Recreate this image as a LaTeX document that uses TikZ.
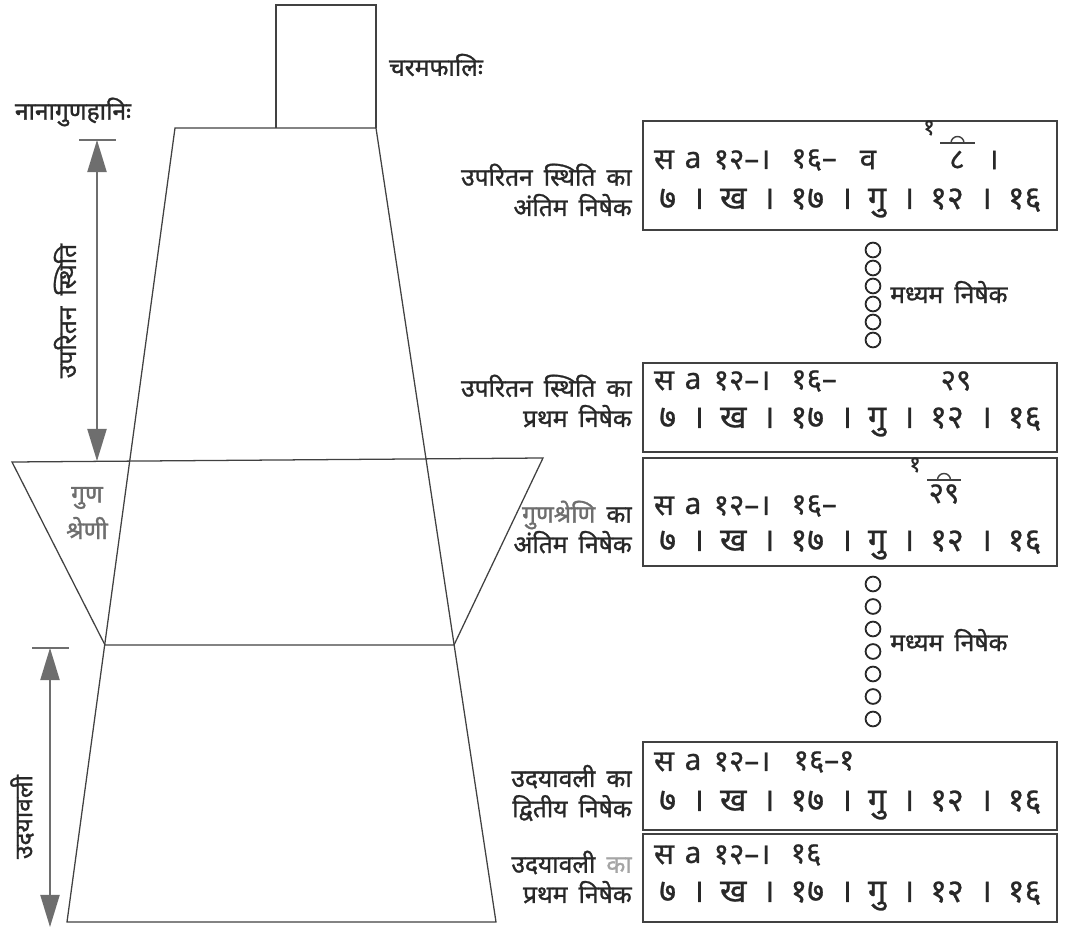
\documentclass[tikz,border=0pt]{standalone}
\usepackage{fontspec}
\setmainfont[Script=Devanagari]{Noto Sans}
\newfontfamily\devlab[Script=Devanagari,FakeBold=1.2]{Noto Sans}
\newfontfamily\devval[Script=Devanagari,FakeBold=0.8]{Noto Sans}
\usetikzlibrary{arrows.meta}
\definecolor{inkgray}{RGB}{40,40,40}
\definecolor{linegray}{RGB}{65,65,65}
\definecolor{shadegray}{RGB}{110,110,110}
\definecolor{palegray}{RGB}{165,165,165}

\begin{document}
\begin{tikzpicture}[
    x=0.025cm, y=-0.025cm,
    outline/.style={draw=linegray, line width=0.9pt},
    span/.style={{Triangle[length=0.8cm,width=0.48cm]}-{Triangle[length=0.8cm,width=0.48cm]}, draw=shadegray, fill=shadegray, line width=1pt},
    tick/.style={draw=shadegray, line width=1pt},
    lab/.style={font={\devlab\fontsize{17.5}{21.5}\selectfont\spaceskip=0.45em\relax}, text=inkgray, align=right, anchor=east, inner sep=0pt},
    head/.style={font={\devlab\fontsize{17.5}{20}\selectfont\spaceskip=0.45em\relax}, text=inkgray, inner sep=0pt},
    val/.style={font={\devval\fontsize{23}{26}\selectfont}, text=inkgray, inner sep=0pt},
    valtop/.style={font={\devval\fontsize{21}{24}\selectfont}, text=inkgray, inner sep=0pt},
    sup/.style={font={\devval\fontsize{16}{17}\selectfont}, text=inkgray, inner sep=0pt},
    slot/.style={draw=linegray, line width=1.3pt},
    bead/.style={draw=inkgray, line width=1.3pt, circle, minimum size=0.37cm, inner sep=0pt},
]
\useasboundingbox (0,0) rectangle (1067,931);

% --- the column: last slice on top, trapezoid, guna-shreni wedge ---
\draw[outline] (276,128) -- (276,5) -- (376,5) -- (376,128);
\draw[outline] (175,128) -- (376,128) -- (496,922) -- (67,922) -- cycle;
\draw[outline] (12,462) -- (543,458) -- (454,645) -- (105,645) -- cycle;

\node[head, text=shadegray] (gun1) at (87,498) {गुण};
\node[head, text=shadegray] (gun2) at (87,528) {श्रेणी};

% --- headings ---
\node[head] (nana) at (73,112) {नानागुणहानिः};
\node[head] (charam) at (436,65) {चरमफालिः};

% --- spans on the left ---
\coordinate (uptop) at (97,140);
\coordinate (upbot) at (97,461);
\draw[tick] (79,140) -- (116,140);
\draw[span] (uptop) -- (upbot);
\node[head, rotate=90] (upside) at (65,311) {उपरितन स्थिति};

\coordinate (udtop) at (50,648);
\coordinate (udbot) at (50,927);
\draw[tick] (32,648) -- (69,648);
\draw[span] (udtop) -- (udbot);
\node[head, rotate=90] (udside) at (22,817) {उदयावली};

% --- boxes ---
\draw[slot] (643,121) rectangle (1057,230);
\draw[slot] (643,363) rectangle (1057,452);
\draw[slot] (643,458) rectangle (1057,566);
\draw[slot] (643,742) rectangle (1057,830);
\draw[slot] (643,834) rectangle (1057,922);

% top rows
\foreach \x/\t [count=\i] in {664/स, 693/a, 742/१२–।, 814/१६–, 868/व, 957/८, 993/।}
  \node[valtop] (ua\i) at (\x,160) {\t};
\node[sup] (ua-sup) at (929,128) {१};
\draw[linegray, line width=1pt] (940,143) -- (975,143);
\draw[linegray, line width=1pt] (951,143) arc[start angle=180, end angle=360, radius=6.5];

\foreach \x/\t [count=\i] in {664/स, 693/a, 742/१२–।, 814/१६–, 956/२९}
  \node[valtop] (ub\i) at (\x,381) {\t};

\foreach \x/\t [count=\i] in {664/स, 693/a, 742/१२–।, 814/१६–}
  \node[valtop] (gs\i) at (\x,506) {\t};
\node[valtop] (gs5) at (944,494) {२९};
\node[sup] (gs-sup) at (915,465) {१};
\draw[linegray, line width=1pt] (927,480) -- (961,480);
\draw[linegray, line width=1pt] (937.5,480) arc[start angle=180, end angle=360, radius=6.5];

\foreach \x/\t [count=\i] in {664/स, 693/a, 742/१२–।, 824/१६–१}
  \node[valtop] (ud\i) at (\x,762) {\t};
\foreach \x/\t [count=\i] in {664/स, 693/a, 742/१२–।, 806/१६}
  \node[valtop] (uf\i) at (\x,855) {\t};

% bottom rows
\foreach \y/\n in {203/ua, 422/ub, 545/gs, 805/ud, 896/uf}
  \node[val, anchor=west] (\n-row) at (659,\y) {\makebox[9.55cm][s]{७ । ख । १७ । गु । १२ । १६}};

% --- labels ---
\node[lab] (l1) at (632,190) {उपरितन स्थिति का\\अंतिम निषेक};
\node[lab] (l2) at (632,401) {उपरितन स्थिति का\\प्रथम निषेक};
\node[lab] (l3) at (632,527) {{\color{shadegray}गुणश्रेणि} का\\अंतिम निषेक};
\node[lab] (l4) at (632,793) {उदयावली का\\द्वितीय निषेक};
\node[lab] (l5) at (632,877) {उदयावली {\color{palegray}का}\\प्रथम निषेक};

% --- middle nisheka chains ---
\foreach \k in {0,...,5}
  \node[bead] (ma\k) at (873,250+18*\k) {};
\node[head, anchor=west] (mida) at (890,292) {मध्यम निषेक};
\foreach \k in {0,...,6}
  \node[bead] (mb\k) at (873,584+22.5*\k) {};
\node[head, anchor=west] (midb) at (890,640) {मध्यम निषेक};

\end{tikzpicture}
\end{document}
